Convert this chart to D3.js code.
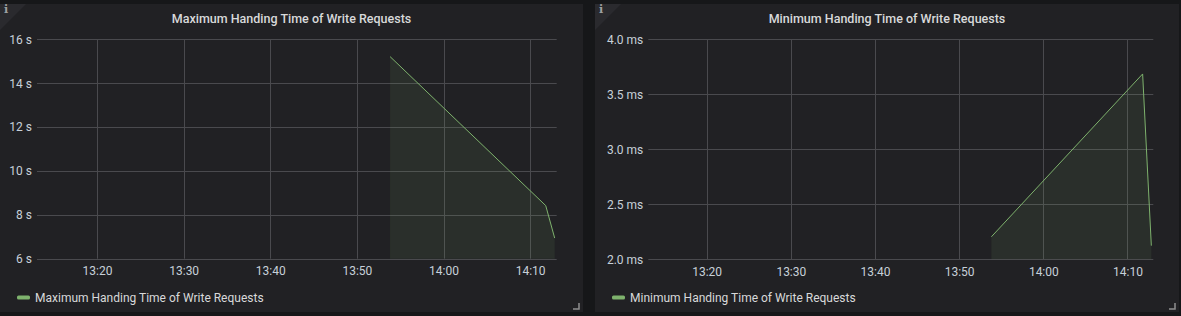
<!DOCTYPE html>
<html>
<head>
<meta charset="utf-8">
<script src="https://cdn.jsdelivr.net/npm/d3@7"></script>
<style>
  html, body { margin: 0; padding: 0; background: #161719; }
  svg { display: block; font-family: Roboto, "Noto Sans", sans-serif; }
</style>
</head>
<body>
<svg id="chart" width="1181" height="316"></svg>
<script>
// ---- data ----
const domainStart = "13:13:04";
const domainEnd = "14:13:04";
const sampleTimes = ["13:53:50", "14:11:48", "14:12:50"];
const maxValues = [15.21, 8.42, 6.94];      // seconds
const minValues = [2.205, 3.685, 2.124];    // milliseconds
const maxYTicks = [6, 8, 10, 12, 14, 16];
const minYTicks = [2.0, 2.5, 3.0, 3.5, 4.0];
const xTickLabels = ["13:20", "13:30", "13:40", "13:50", "14:00", "14:10"];
const titles = ["Maximum Handing Time of Write Requests", "Minimum Handing Time of Write Requests"];

const parseT = d3.timeParse("%Y-%m-%d %H:%M:%S");
const day = "2020-01-01 ";
const toDate = s => parseT(day + s);
const toDateHM = s => parseT(day + s + ":00");

const svg = d3.select("#chart");
const lineColor = "#7eb26d";

function drawPanel(o) {
  const g = svg.append("g");
  // panel background
  g.append("rect").attr("x", o.px).attr("y", 4).attr("width", o.pw).attr("height", 308).attr("fill", "#212124");
  // corner info triangle
  g.append("path").attr("d", `M${o.px},4 h26 L${o.px},30 Z`).attr("fill", "#2a2a2e");
  g.append("text").attr("x", o.px + 6).attr("y", 13).attr("text-anchor", "middle")
    .attr("font-size", 11).attr("font-weight", 700).attr("fill", "#9fa0a2").attr("font-family", "DejaVu Serif, serif").text("i");
  // resize handle
  const rx = o.px + o.pw - 4, ry = 309;
  g.append("path").attr("d", `M${rx - 6},${ry} H${rx} V${ry - 6}`).attr("fill", "none").attr("stroke", "#8e8e8e").attr("stroke-width", 1.5);
  // title
  g.append("text").attr("x", o.px + o.pw / 2).attr("y", 23).attr("text-anchor", "middle")
    .attr("font-size", 12.5).attr("font-weight", 500).attr("fill", "#d8d9da").text(o.title);

  const x = d3.scaleTime().domain([toDate(domainStart), toDate(domainEnd)]).range([o.x0, o.x1]);
  const y = d3.scaleLinear().domain(o.yDomain).range([o.y1, o.y0]);
  const xTicks = xTickLabels.map(toDateHM);

  // grid
  g.append("g").selectAll("line").data(o.yTicks).join("line")
    .attr("x1", o.x0).attr("x2", o.x1).attr("y1", d => Math.round(y(d)) + 0.5).attr("y2", d => Math.round(y(d)) + 0.5)
    .attr("stroke", "#4a4a4e").attr("stroke-width", 1);
  g.append("g").selectAll("line").data(xTicks).join("line")
    .attr("x1", d => Math.round(x(d)) + 0.5).attr("x2", d => Math.round(x(d)) + 0.5).attr("y1", o.y0).attr("y2", o.y1)
    .attr("stroke", "#4a4a4e").attr("stroke-width", 1);

  // y axis
  const yAxis = d3.axisLeft(y).tickValues(o.yTicks).tickSize(0).tickPadding(5).tickFormat(o.fmt);
  const ya = g.append("g").attr("transform", `translate(${o.x0},0)`).call(yAxis);
  ya.select(".domain").remove();
  ya.selectAll("text").attr("fill", "#c7d0d9").attr("font-size", 12).attr("font-family", "Roboto, sans-serif");

  // x axis
  const xAxis = d3.axisBottom(x).tickValues(xTicks).tickSize(0).tickPadding(8).tickFormat(d3.timeFormat("%H:%M"));
  const xa = g.append("g").attr("transform", `translate(0,${o.y1})`).call(xAxis);
  xa.select(".domain").remove();
  xa.selectAll("text").attr("fill", "#c7d0d9").attr("font-size", 12).attr("font-family", "Roboto, sans-serif");

  const pts = sampleTimes.map((t, i) => ({ t: toDate(t), v: o.values[i] }));
  const area = d3.area().x(d => x(d.t)).y0(o.y1).y1(d => y(d.v));
  const line = d3.line().x(d => x(d.t)).y(d => y(d.v));
  g.append("path").datum(pts).attr("d", area).attr("fill", lineColor).attr("fill-opacity", 0.1);
  g.append("path").datum(pts).attr("d", line).attr("fill", "none").attr("stroke", lineColor).attr("stroke-width", 1);

  // legend
  g.append("rect").attr("x", o.px + 17).attr("y", 295.5).attr("width", 13).attr("height", 4).attr("rx", 1.5).attr("fill", lineColor);
  g.append("text").attr("x", o.px + 35).attr("y", 302).attr("font-size", 12).attr("fill", "#d8d9da").text(o.title);
}

drawPanel({
  px: 0, pw: 583, title: titles[0],
  x0: 37, x1: 556.7, y0: 39.3, y1: 258.7,
  yDomain: [6, 16], yTicks: maxYTicks, values: maxValues,
  fmt: d => d + " s"
});
drawPanel({
  px: 595, pw: 584, title: titles[1],
  x0: 648.3, x1: 1153.3, y0: 39.3, y1: 259.3,
  yDomain: [2, 4], yTicks: minYTicks, values: minValues,
  fmt: d => d3.format(".1f")(d) + " ms"
});
</script>
</body>
</html>
